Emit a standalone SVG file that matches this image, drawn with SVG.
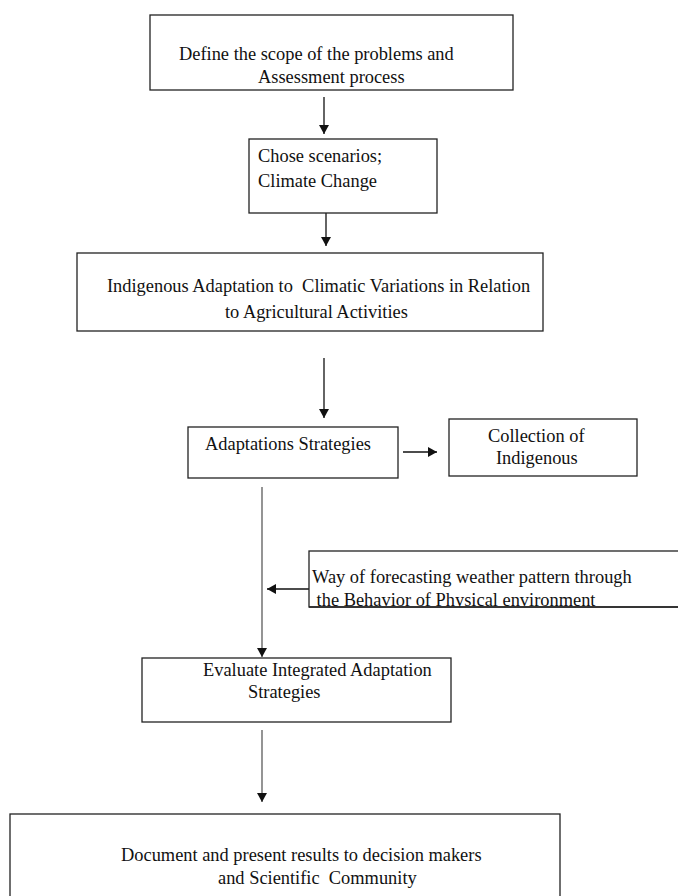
<svg xmlns="http://www.w3.org/2000/svg" width="678" height="896" viewBox="0 0 678 896">
<style>
.box{fill:#fff;stroke:#222;stroke-width:1.3}
.t{font-family:"Liberation Serif","Times New Roman",serif;font-size:18.4px;fill:#111;white-space:pre}
.c{stroke:#111;stroke-width:1.3;fill:none}
.g{stroke:#7a7a7a;stroke-width:1.6;fill:none}
</style>
<defs>
<marker id="ah" markerUnits="userSpaceOnUse" markerWidth="9" markerHeight="10" refX="9" refY="5" orient="auto">
<path d="M0,0 L9,5 L0,10 z" fill="#111"/>
</marker>
<clipPath id="clip6"><rect x="309" y="551" width="370" height="56"/></clipPath>
</defs>
<g id="connectors">
<line class="c" x1="324" y1="97" x2="324" y2="134" marker-end="url(#ah)"/>
<line class="c" x1="326" y1="213" x2="326" y2="246" marker-end="url(#ah)"/>
<line class="c" x1="324" y1="358" x2="324" y2="418" marker-end="url(#ah)"/>
<line class="c" x1="403" y1="452" x2="437" y2="452" marker-end="url(#ah)"/>
<line class="g" x1="262" y1="487" x2="262" y2="657" marker-end="url(#ah)"/>
<line class="c" x1="309" y1="589" x2="267" y2="589" marker-end="url(#ah)"/>
<line class="g" x1="262" y1="730" x2="262" y2="802" marker-end="url(#ah)"/>
</g>
<g id="n1">
<rect class="box" x="150" y="15" width="363" height="75"/>
<text class="t" x="179" y="60">Define the scope of the problems and</text>
<text class="t" x="258" y="83">Assessment process</text>
</g>
<g id="n2">
<rect class="box" x="249" y="139" width="188" height="74"/>
<text class="t" x="258" y="162">Chose scenarios;</text>
<text class="t" x="258" y="187">Climate Change</text>
</g>
<g id="n3">
<rect class="box" x="77" y="253" width="466" height="78"/>
<text class="t" x="107" y="292">Indigenous Adaptation to  Climatic Variations in Relation</text>
<text class="t" x="225" y="318">to Agricultural Activities</text>
</g>
<g id="n4">
<rect class="box" x="188" y="427" width="210" height="51"/>
<text class="t" x="205" y="450">Adaptations Strategies</text>
</g>
<g id="n5">
<rect class="box" x="449" y="419" width="188" height="57"/>
<text class="t" x="488" y="442">Collection of</text>
<text class="t" x="496" y="464">Indigenous</text>
</g>
<g id="n6">
<rect class="box" x="309" y="551" width="372" height="56"/>
<g clip-path="url(#clip6)">
<text class="t" x="312" y="583">Way of forecasting weather pattern through</text>
<text class="t" x="312" y="606"> the Behavior of Physical environment</text>
</g>
<line x1="309" y1="607" x2="680" y2="607" stroke="#222" stroke-width="1.3"/>
</g>
<g id="n7">
<rect class="box" x="142" y="658" width="309" height="64"/>
<text class="t" x="203" y="676">Evaluate Integrated Adaptation</text>
<text class="t" x="248" y="698">Strategies</text>
</g>
<g id="n8">
<rect class="box" x="10" y="814" width="550" height="90"/>
<text class="t" x="121" y="861">Document and present results to decision makers</text>
<text class="t" x="218" y="884">and Scientific  Community</text>
</g>
</svg>
